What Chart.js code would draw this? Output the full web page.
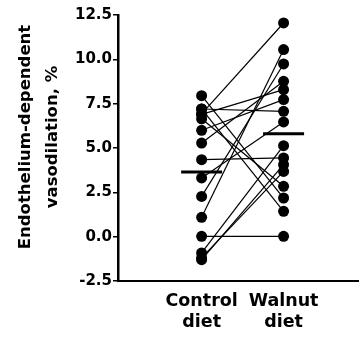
<!DOCTYPE html>
<html>
<head>
<meta charset="utf-8">
<script src="https://cdn.jsdelivr.net/npm/chart.js@4.4.0/dist/chart.umd.min.js"></script>
<style>
  html, body { margin: 0; padding: 0; background: #fff; }
  #wrap { width: 359px; height: 337px; }
</style>
</head>
<body>
<div id="wrap"><canvas id="pairedChart" width="359" height="337"></canvas></div>
<script>
// Values (one entry per subject, same order in both arrays)
const categories = [['Control', 'diet'], ['Walnut', 'diet']];
const controlValues = [7.95, 7.2, 7.2, 6.92, 6.9, 6.65, 6.0, 5.28, 4.34, 3.31, 2.27, 1.09, 0.02, -0.92, -1.3, -1.2];
const walnutValues  = [2.18, 1.43, 7.07, 12.05, 8.29, 2.84, 7.73, 8.76, 4.44, 6.47, 9.74, 10.55, 0.02, 5.13, 4.06, 3.68];
const groupMeans = [3.65, 5.8];
const yTicks = [-2.5, 0, 2.5, 5, 7.5, 10, 12.5];
const yTitle = ['Endothelium-dependent', 'vasodilation, %'];

const FAMILY = '"DejaVu Sans", sans-serif';

// y axis title, drawn by hand so it can sit a bit above the middle like the original
const yTitlePlugin = {
    id: 'yTitle',
    afterDraw(chart) {
        const ctx = chart.ctx;
        ctx.save();
        ctx.translate(39, 137);
        ctx.rotate(-Math.PI / 2);
        ctx.font = 'bold 16.5px ' + FAMILY;
        ctx.fillStyle = '#000';
        ctx.textAlign = 'center';
        ctx.textBaseline = 'middle';
        yTitle.forEach((line, i) => ctx.fillText(line, 0, (i - 0.5) * 27));
        ctx.restore();
    }
};

function buildDatasets() {
    // one little line per subject: control -> walnut
    const pairs = controlValues.map((c, i) => ({
        data: [{ x: 1, y: c }, { x: 2, y: walnutValues[i] }],
        borderColor: '#000',
        borderWidth: 1.2,
        pointRadius: 5.5,
        pointBackgroundColor: '#000',
        pointBorderWidth: 0,
        clip: false
    }));
    // horizontal mean bars
    const means = groupMeans.map((m, i) => ({
        data: [{ x: i + 0.75, y: m }, { x: i + 1.25, y: m }],
        borderColor: '#000',
        borderWidth: 3,
        pointRadius: 0,
        clip: false
    }));
    return pairs.concat(means);
}

document.addEventListener('DOMContentLoaded', function() {
    const ctx = document.getElementById('pairedChart');
    new Chart(ctx, {
        type: 'line',
        data: { datasets: buildDatasets() },
        options: {
            responsive: false,
            animation: false,
            layout: { autoPadding: false, padding: { top: 15, right: 0, bottom: 0, left: 0 } },
            plugins: {
                legend: { display: false },
                tooltip: { enabled: false }
            },
            scales: {
                x: {
                    type: 'linear',
                    min: -0.02,
                    max: 2.92,
                    afterBuildTicks: s => { s.ticks = [1, 2].map(v => ({ value: v })); },
                    afterFit: s => {
                        s.height = 56;
                        s.paddingLeft = 0;
                        s.paddingRight = 0;
                    },
                    grid: { display: false },
                    border: { display: true, color: '#000', width: 2 },
                    ticks: {
                        color: '#000',
                        autoSkip: false,
                        maxRotation: 0,
                        padding: 2,
                        font: { family: FAMILY, size: 17.5, weight: 'bold', lineHeight: 1.2 },
                        callback: v => categories[v - 1]
                    }
                },
                y: {
                    min: -2.5,
                    max: 12.5,
                    afterBuildTicks: s => { s.ticks = yTicks.map(v => ({ value: v })); },
                    afterFit: s => { s.width = 118; },
                    grid: { drawOnChartArea: false, color: '#000', lineWidth: 1.5, tickLength: 5 },
                    border: { color: '#000', width: 2.5 },
                    ticks: {
                        color: '#000',
                        padding: 1,
                        font: { family: FAMILY, size: 15, weight: 'bold' },
                        callback: v => v.toFixed(1)
                    }
                }
            }
        },
        plugins: [yTitlePlugin]
    });
});
</script>
</body>
</html>
